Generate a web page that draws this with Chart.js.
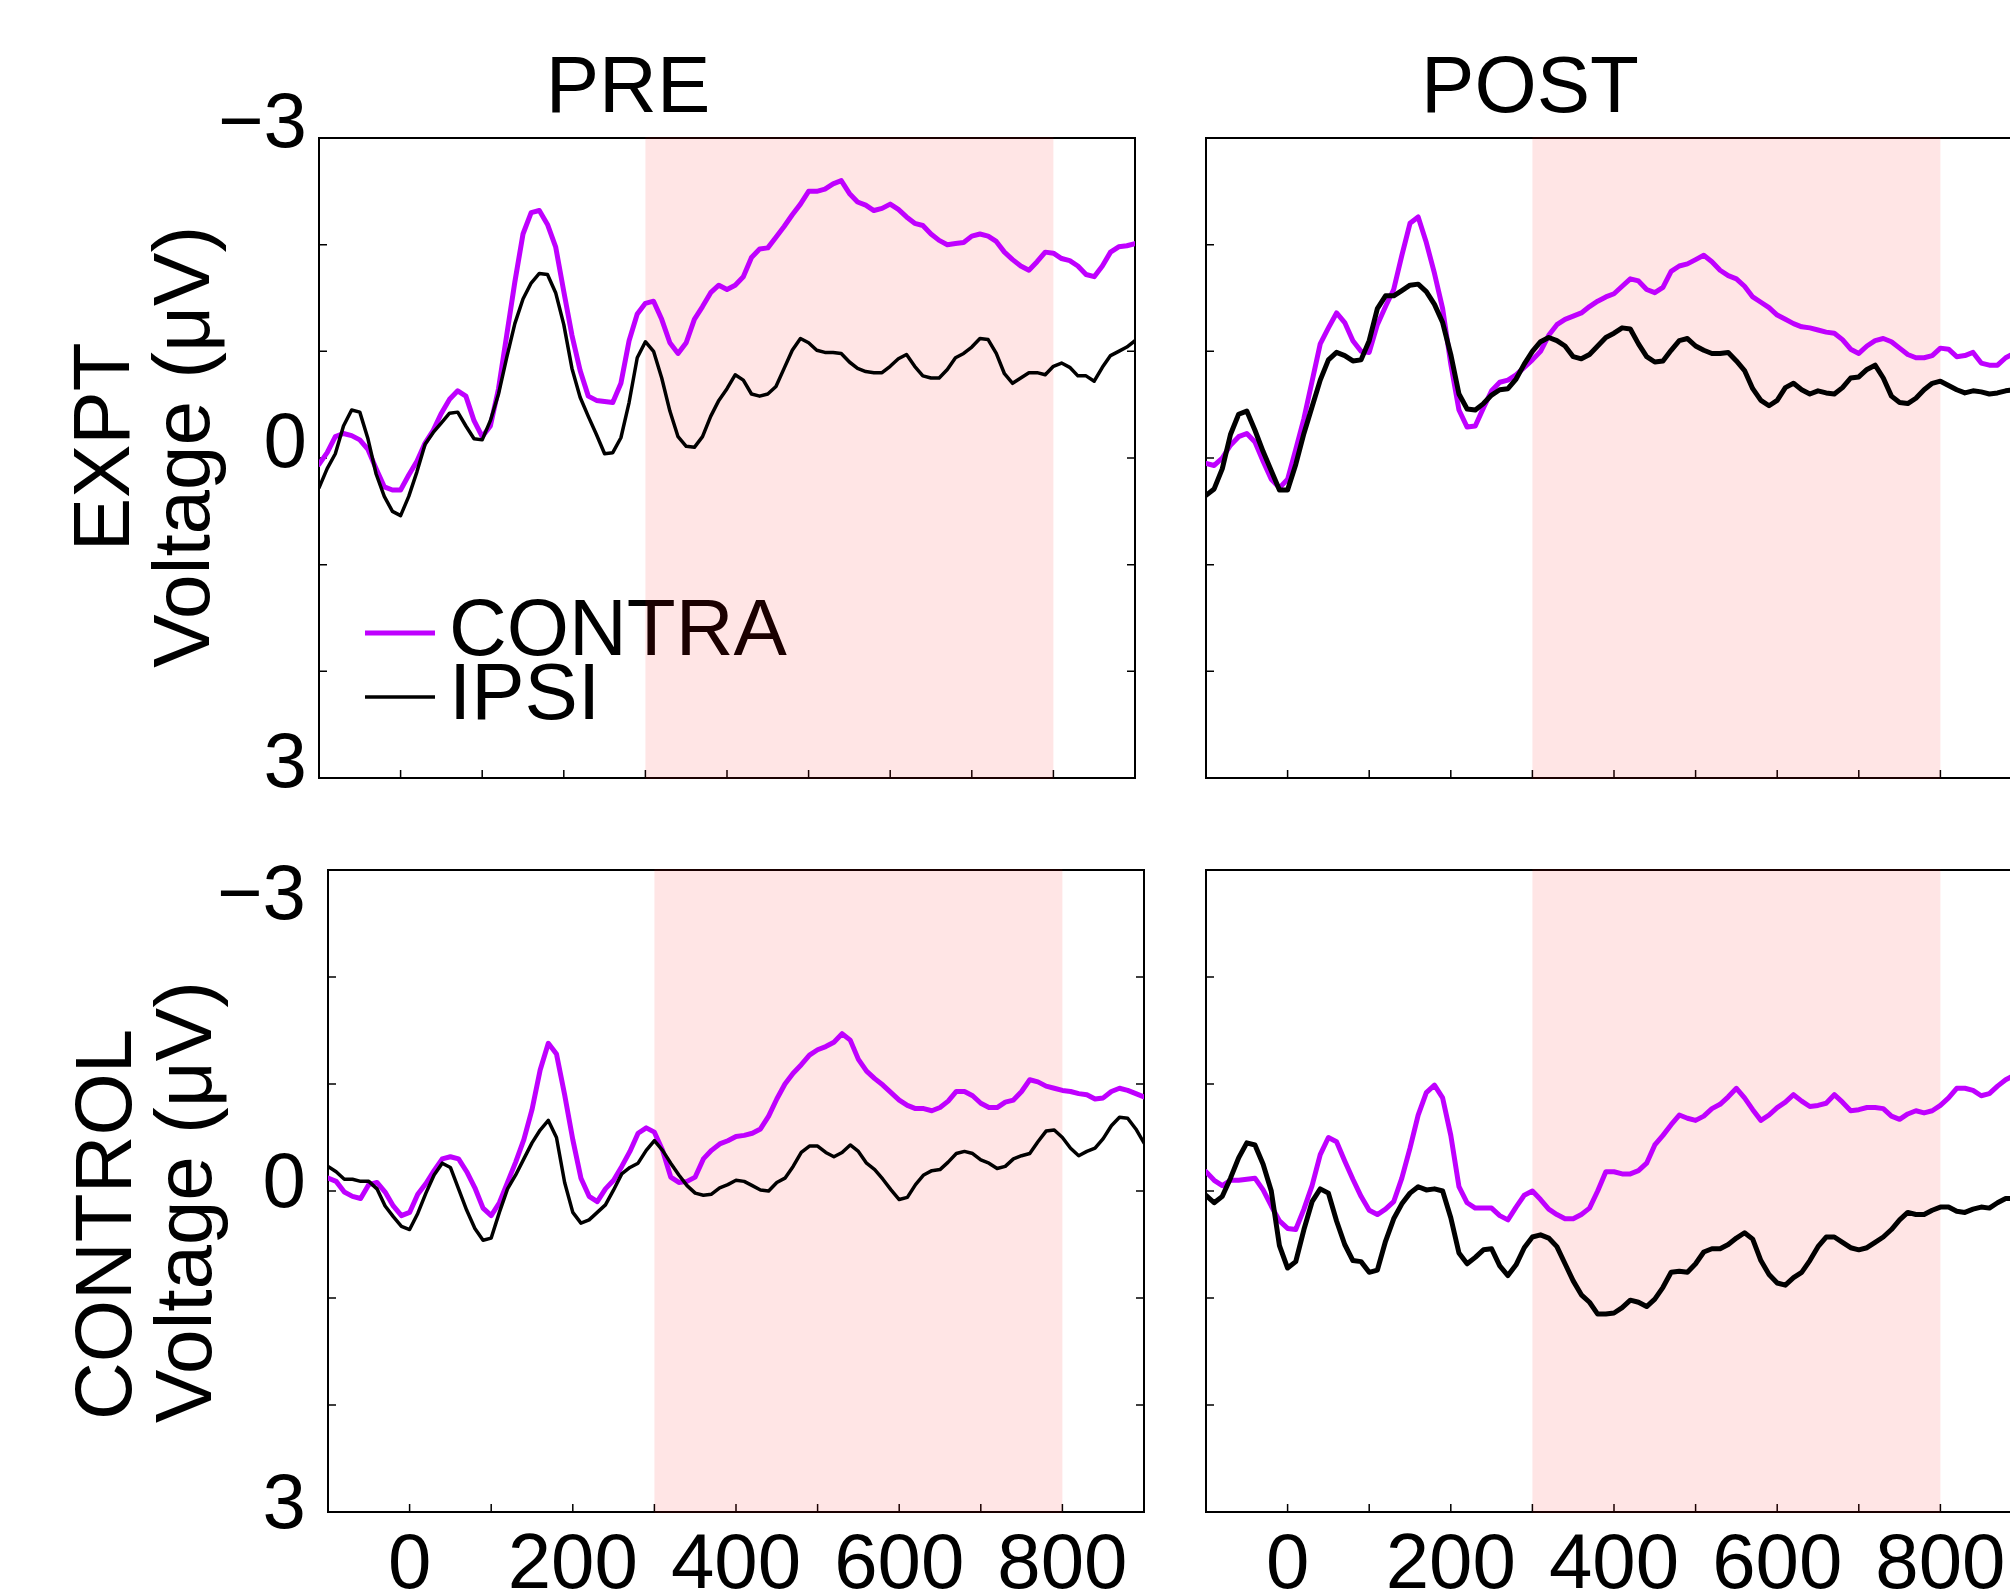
<!DOCTYPE html>
<html>
<head>
  <meta charset="utf-8">
  <title>CONTRA / IPSI – PRE / POST</title>
  <script src="https://cdn.jsdelivr.net/npm/chart.js"></script>
  <style>
    html, body { margin: 0; padding: 0; background: #fff; overflow: hidden; }
    body { width: 2010px; height: 1592px; position: relative; }
    canvas { position: absolute; }
  </style>
</head>
<body>
  <canvas id="preExpt" width="1256" height="800" style="left:0px;top:0px"></canvas>
  <canvas id="postExpt" width="984" height="800" style="left:1038px;top:0px"></canvas>
  <canvas id="preCtrl" width="1256" height="792" style="left:0px;top:800px"></canvas>
  <canvas id="postCtrl" width="984" height="792" style="left:1038px;top:800px"></canvas>

  <script>
    // time in ms, one sample every 10 ms
    const times = [
      -100, -90, -80, -70, -60, -50, -40, -30, -20, -10,
      0, 10, 20, 30, 40, 50, 60, 70, 80, 90,
      100, 110, 120, 130, 140, 150, 160, 170, 180, 190,
      200, 210, 220, 230, 240, 250, 260, 270, 280, 290,
      300, 310, 320, 330, 340, 350, 360, 370, 380, 390,
      400, 410, 420, 430, 440, 450, 460, 470, 480, 490,
      500, 510, 520, 530, 540, 550, 560, 570, 580, 590,
      600, 610, 620, 630, 640, 650, 660, 670, 680, 690,
      700, 710, 720, 730, 740, 750, 760, 770, 780, 790,
      800, 810, 820, 830, 840, 850, 860, 870, 880, 890,
      900
    ];

    // voltages in microvolts (axis is drawn negative-up)
    const preExptContra = [
      0.06, -0.05, -0.2, -0.23, -0.21, -0.17, -0.08, 0.1, 0.27, 0.3,
      0.3, 0.16, 0.03, -0.14, -0.26, -0.42, -0.55, -0.63, -0.58, -0.35,
      -0.2, -0.3, -0.65, -1.15, -1.65, -2.1, -2.3, -2.32, -2.19, -1.98,
      -1.56, -1.15, -0.82, -0.58, -0.54, -0.53, -0.52, -0.7, -1.1, -1.35,
      -1.45, -1.47, -1.3, -1.08, -0.98, -1.08, -1.3, -1.42, -1.55, -1.62,
      -1.58, -1.62, -1.7, -1.88, -1.96, -1.97, -2.07, -2.17, -2.28, -2.38,
      -2.5, -2.5, -2.52, -2.57, -2.6, -2.48, -2.4, -2.37, -2.32, -2.34,
      -2.38, -2.33, -2.26, -2.2, -2.18, -2.1, -2.04, -2.0, -2.01, -2.02,
      -2.08, -2.1, -2.08, -2.03, -1.93, -1.86, -1.8, -1.76, -1.84, -1.93,
      -1.92, -1.87, -1.85, -1.8, -1.72, -1.7, -1.8, -1.93, -1.98, -1.99,
      -2.01
    ];
    const preExptIpsi = [
      0.28, 0.1, -0.04, -0.3, -0.45, -0.43, -0.18, 0.15, 0.36, 0.5,
      0.54, 0.36, 0.13, -0.13, -0.24, -0.33, -0.42, -0.43, -0.3, -0.18,
      -0.17, -0.35, -0.6, -0.94, -1.26, -1.49, -1.64, -1.73, -1.72, -1.55,
      -1.25, -0.84, -0.57, -0.39, -0.22, -0.04, -0.05, -0.19, -0.52, -0.94,
      -1.09, -1.0, -0.75, -0.44, -0.2, -0.11, -0.1, -0.2, -0.39, -0.54,
      -0.65, -0.78, -0.73, -0.6, -0.58, -0.6, -0.67, -0.84, -1.01, -1.12,
      -1.08, -1.01, -0.99, -0.99, -0.98, -0.9, -0.84, -0.81, -0.8, -0.8,
      -0.86, -0.93, -0.97, -0.86, -0.77, -0.75, -0.75, -0.83, -0.94, -0.98,
      -1.04, -1.12, -1.11, -0.98, -0.79, -0.7, -0.75, -0.8, -0.8, -0.78,
      -0.86, -0.89, -0.85, -0.77, -0.77, -0.72, -0.85, -0.96, -1.0, -1.04,
      -1.1
    ];
    const postExptContra = [
      0.05, 0.07, 0.0, -0.12, -0.2, -0.23, -0.15, 0.03, 0.2, 0.28,
      0.2, -0.08, -0.37, -0.72, -1.07, -1.22, -1.36, -1.27, -1.1, -1.0,
      -0.99, -1.25, -1.42, -1.58, -1.9, -2.2, -2.26, -2.02, -1.73, -1.4,
      -0.88, -0.45, -0.29, -0.3, -0.47, -0.63, -0.71, -0.73, -0.78, -0.85,
      -0.92, -1.0, -1.15, -1.25, -1.3, -1.33, -1.36, -1.42, -1.47, -1.51,
      -1.54, -1.61, -1.68, -1.66, -1.58, -1.55, -1.6, -1.75, -1.8, -1.82,
      -1.86, -1.9, -1.84, -1.76, -1.71, -1.68, -1.61, -1.51, -1.46, -1.41,
      -1.34, -1.3, -1.26, -1.23, -1.22, -1.2, -1.18, -1.17, -1.11, -1.02,
      -0.98, -1.05, -1.1, -1.12, -1.09, -1.03, -0.97, -0.94, -0.94, -0.96,
      -1.03, -1.02, -0.95, -0.96, -0.99, -0.89, -0.87, -0.87, -0.94, -0.98,
      -1.0
    ];
    const postExptIpsi = [
      0.35, 0.29, 0.1, -0.22, -0.41, -0.44, -0.26, -0.06, 0.12, 0.3,
      0.3, 0.06, -0.23, -0.48, -0.73, -0.92, -0.99, -0.96, -0.91, -0.92,
      -1.1, -1.4, -1.52, -1.52, -1.57, -1.62, -1.63, -1.56, -1.44, -1.27,
      -0.97, -0.6, -0.46, -0.45, -0.51, -0.59, -0.64, -0.65, -0.74, -0.88,
      -1.0, -1.09, -1.13, -1.1, -1.05, -0.95, -0.93, -0.97, -1.05, -1.13,
      -1.17, -1.22, -1.21, -1.07, -0.95, -0.9, -0.91, -1.01, -1.1, -1.12,
      -1.05, -1.01, -0.98, -0.98, -0.99, -0.91, -0.82, -0.65, -0.54, -0.49,
      -0.54, -0.66, -0.7, -0.64, -0.6, -0.63, -0.61, -0.6, -0.66, -0.75,
      -0.76, -0.83, -0.87, -0.75, -0.58, -0.52, -0.51, -0.56, -0.64, -0.7,
      -0.72, -0.68, -0.64, -0.61, -0.63, -0.62, -0.6, -0.61, -0.63, -0.64,
      -0.65
    ];
    const preCtrlContra = [
      -0.12, -0.09, 0.01, 0.05, 0.07, -0.06, -0.08, 0.01, 0.14, 0.23,
      0.2, 0.03, -0.07, -0.19, -0.3, -0.32, -0.3, -0.18, -0.03, 0.16,
      0.23, 0.11, -0.08, -0.27, -0.48, -0.76, -1.13, -1.38, -1.28, -0.9,
      -0.48, -0.12, 0.05, 0.1, -0.02, -0.1, -0.23, -0.37, -0.54, -0.59,
      -0.55, -0.38, -0.13, -0.08, -0.09, -0.13, -0.3, -0.38, -0.44, -0.47,
      -0.51, -0.52, -0.54, -0.58, -0.7, -0.86, -1.0, -1.1, -1.18, -1.27,
      -1.32, -1.35, -1.39, -1.47, -1.41, -1.23, -1.12, -1.05, -0.99, -0.92,
      -0.85, -0.8, -0.77, -0.77, -0.75, -0.78, -0.84, -0.93, -0.93, -0.89,
      -0.82, -0.78, -0.78, -0.83, -0.85, -0.93, -1.04, -1.02, -0.98, -0.96,
      -0.94, -0.93, -0.91, -0.9, -0.86, -0.87, -0.93, -0.96, -0.94, -0.91,
      -0.88
    ];
    const preCtrlIpsi = [
      -0.23, -0.18, -0.11, -0.11, -0.09, -0.09, -0.02, 0.14, 0.24, 0.33,
      0.36, 0.21, 0.02, -0.15, -0.26, -0.22, -0.02, 0.18, 0.35, 0.46,
      0.44, 0.2, -0.02, -0.15, -0.3, -0.45, -0.57, -0.66, -0.5, -0.08,
      0.2, 0.3, 0.27, 0.2, 0.13, -0.01, -0.16, -0.22, -0.26, -0.38,
      -0.47, -0.38, -0.26, -0.15, -0.05, 0.02, 0.04, 0.03, -0.03, -0.06,
      -0.1, -0.09, -0.05, -0.01, 0.0, -0.08, -0.12, -0.23, -0.36, -0.42,
      -0.42, -0.36, -0.32, -0.36, -0.43, -0.37, -0.26, -0.2, -0.11, -0.01,
      0.08, 0.06, -0.06, -0.15, -0.19, -0.2, -0.27, -0.35, -0.37, -0.35,
      -0.29, -0.26, -0.21, -0.23, -0.3, -0.33, -0.35, -0.46, -0.56, -0.57,
      -0.5, -0.4, -0.33, -0.37, -0.4, -0.49, -0.61, -0.69, -0.68, -0.58,
      -0.45
    ];
    const postCtrlContra = [
      -0.18, -0.1, -0.05, -0.1, -0.1, -0.11, -0.12, -0.01, 0.14, 0.28,
      0.35, 0.36, 0.17, -0.05, -0.34, -0.5, -0.46, -0.28, -0.11, 0.05,
      0.18, 0.22, 0.17, 0.1, -0.12, -0.4, -0.71, -0.92, -0.99, -0.87,
      -0.52, -0.04, 0.11, 0.16, 0.16, 0.16, 0.23, 0.27, 0.15, 0.04,
      0.0, 0.08, 0.17, 0.22, 0.26, 0.26, 0.22, 0.16, 0.0, -0.18,
      -0.18, -0.16, -0.16, -0.19, -0.26, -0.43, -0.52, -0.62, -0.71, -0.68,
      -0.66, -0.7, -0.77, -0.81, -0.88, -0.96, -0.87, -0.76, -0.66, -0.71,
      -0.78, -0.83, -0.9, -0.84, -0.79, -0.8, -0.82, -0.9, -0.83, -0.75,
      -0.76, -0.78, -0.78, -0.77, -0.7, -0.67, -0.72, -0.75, -0.73, -0.75,
      -0.8, -0.87, -0.96, -0.96, -0.94, -0.89, -0.91, -0.98, -1.04, -1.08,
      -1.1
    ];
    const postCtrlIpsi = [
      0.04, 0.11, 0.05, -0.12, -0.31, -0.45, -0.43, -0.25, 0.0, 0.51,
      0.72, 0.66, 0.36, 0.1, -0.02, 0.02, 0.28, 0.5, 0.65, 0.66,
      0.76, 0.74, 0.47, 0.26, 0.12, 0.02, -0.04, -0.01, -0.02, 0.0,
      0.25, 0.58, 0.68, 0.62, 0.55, 0.54, 0.7, 0.79, 0.69, 0.53,
      0.43, 0.41, 0.44, 0.52, 0.68, 0.84, 0.97, 1.04, 1.15, 1.15,
      1.14, 1.09, 1.02, 1.04, 1.08, 1.01, 0.9, 0.76, 0.75, 0.76,
      0.68, 0.57, 0.54, 0.54, 0.5, 0.44, 0.39, 0.45, 0.65, 0.78,
      0.86, 0.88, 0.81, 0.76, 0.65, 0.52, 0.43, 0.43, 0.48, 0.53,
      0.55, 0.53, 0.48, 0.43, 0.36, 0.27, 0.2, 0.22, 0.22, 0.18,
      0.15, 0.15, 0.19, 0.2, 0.17, 0.15, 0.16, 0.11, 0.07, 0.07,
      0.07
    ];

    // axes
    const xTicks = [-100, 0, 100, 200, 300, 400, 500, 600, 700, 800, 900];
    const xLabelValues = [0, 200, 400, 600, 800];
    const yTicks = [-3, -2, -1, 0, 1, 2, 3];
    const yLabelValues = [-3, 0, 3];
    const windowStart = 300;   // shaded analysis window
    const windowEnd = 800;

    const contraColor = '#bf00ff';
    const ipsiColor = '#000000';
    const fontFamily = '"Liberation Sans", Arial, Helvetica, sans-serif';
    const tickLen = 8;

    Chart.defaults.font.family = fontFamily;
    Chart.defaults.color = '#000';

    const yLabel = v => v < 0 ? '\u2212' + Math.abs(v) : String(v);

    // box, inward ticks, legend and the shaded window (drawn under the traces)
    const frame = {
      id: 'frame',
      beforeDatasetsDraw(chart, args, opts) {
        const { ctx, chartArea: a, scales: { x, y } } = chart;
        ctx.save();

        if (opts.legend) {
          const items = [
            { label: 'CONTRA', color: contraColor, width: 5 },
            { label: 'IPSI', color: ipsiColor, width: 3.5 }
          ];
          ctx.font = '80px ' + fontFamily;
          ctx.textBaseline = 'alphabetic';
          ctx.textAlign = 'left';
          items.forEach((it, i) => {
            const ly = a.top + 495 + i * 64;
            ctx.strokeStyle = it.color;
            ctx.lineWidth = it.width;
            ctx.beginPath();
            ctx.moveTo(a.left + 46, ly);
            ctx.lineTo(a.left + 116, ly);
            ctx.stroke();
            ctx.fillStyle = '#000';
            ctx.fillText(it.label, a.left + 130, ly + 22);
          });
        }

        ctx.strokeStyle = '#000';
        ctx.lineWidth = 2;
        ctx.strokeRect(a.left, a.top, a.right - a.left, a.bottom - a.top);

        ctx.lineWidth = 1.5;
        ctx.beginPath();
        yTicks.slice(1, -1).forEach(v => {
          const py = y.getPixelForValue(v);
          ctx.moveTo(a.left, py); ctx.lineTo(a.left + tickLen, py);
          ctx.moveTo(a.right, py); ctx.lineTo(a.right - tickLen, py);
        });
        xTicks.slice(1, -1).forEach(v => {
          const px = x.getPixelForValue(v);
          ctx.moveTo(px, a.bottom); ctx.lineTo(px, a.bottom - tickLen);
        });
        ctx.stroke();

        const x0 = x.getPixelForValue(windowStart);
        const x1 = x.getPixelForValue(windowEnd);
        ctx.fillStyle = 'rgba(255, 0, 0, 0.1)';
        ctx.fillRect(x0, a.top - 1, x1 - x0, a.bottom - a.top + 2);

        ctx.restore();
      }
    };

    // the two left panels print their y labels slightly differently in the original;
    // padding spaces in the axis titles nudge each rotated line along the axis
    const panels = [
      { id: 'preExpt', title: 'PRE', rowTitle: [' EXPT', ' Voltage (\u03bcV)'],
        contra: preExptContra, ipsi: preExptIpsi,
        contraWidth: 5, ipsiWidth: 3.5, legend: true, yLabels: true, showX: false,
        padding: { left: 121, right: 121, top: 0, bottom: 22 }, yWidth: 198, yTitlePad: -54,
        tickPad: 4, labelOffset: -13, tickLineHeight: 0.1,
        yText: v => yLabel(v) },
      { id: 'postExpt', title: 'POST', rowTitle: null, contra: postExptContra, ipsi: postExptIpsi,
        contraWidth: 5, ipsiWidth: 5, legend: false, yLabels: false, showX: false,
        padding: { left: 0, right: 0, top: 0, bottom: 22 }, yWidth: 168 },
      { id: 'preCtrl', title: '', rowTitle: ['CONTROL   ', 'Voltage (\u03bcV) '],
        contra: preCtrlContra, ipsi: preCtrlIpsi,
        contraWidth: 5, ipsiWidth: 3.5, legend: false, yLabels: true, showX: true,
        padding: { left: 66, right: 112, top: 70, bottom: 0 }, yWidth: 262, yTitlePad: 3, xHeight: 80,
        tickPad: 14, labelOffset: -6, tickLineHeight: 0.423,
        yText: v => v === yLabelValues[0] ? ['', '', yLabel(v)] : yLabel(v) },
      { id: 'postCtrl', title: '', rowTitle: null, contra: postCtrlContra, ipsi: postCtrlIpsi,
        contraWidth: 5, ipsiWidth: 5, legend: false, yLabels: false, showX: true,
        padding: { left: 0, right: 0, top: 70, bottom: 0 }, yWidth: 168, xHeight: 80 }
    ];

    function makeChart(p) {
      return new Chart(document.getElementById(p.id), {
        type: 'line',
        data: {
          labels: times,
          datasets: [
            { label: 'IPSI', data: p.ipsi, borderColor: ipsiColor, borderWidth: p.ipsiWidth },
            { label: 'CONTRA', data: p.contra, borderColor: contraColor, borderWidth: p.contraWidth }
          ]
        },
        options: {
          responsive: false,
          animation: false,
          events: [],
          layout: { padding: p.padding },
          elements: {
            point: { radius: 0 },
            line: { tension: 0, fill: false, borderJoinStyle: 'round', borderCapStyle: 'round' }
          },
          plugins: {
            legend: { display: false },
            tooltip: { enabled: false },
            title: {
              display: !!p.title,
              text: p.title,
              color: '#000',
              font: { size: 80, weight: 'normal', lineHeight: 1.2 },
              padding: { top: 42, bottom: 0 }
            },
            frame: { legend: p.legend }
          },
          scales: {
            x: {
              type: 'linear',
              min: -100,
              max: 900,
              display: p.showX,
              grid: { display: false },
              border: { display: false },
              afterFit: s => { if (p.xHeight) s.height = p.xHeight; },
              ticks: {
                stepSize: 100,
                autoSkip: false,
                minRotation: 0,
                maxRotation: 0,
                padding: 0,
                color: '#000',
                font: { size: 78, lineHeight: 1.2 },
                callback: v => xLabelValues.includes(v) ? String(v) : ''
              }
            },
            y: {
              type: 'linear',
              reverse: true,
              min: -3,
              max: 3,
              display: true,
              grid: { display: false },
              border: { display: false },
              afterFit: s => { s.width = p.yWidth; },
              ticks: {
                stepSize: 1,
                autoSkip: false,
                padding: p.tickPad || 0,
                labelOffset: p.labelOffset || 0,
                color: '#000',
                font: { size: 78, lineHeight: p.tickLineHeight || 0.1 },
                callback: v => (p.yLabels && yLabelValues.includes(v)) ? p.yText(v) : ''
              },
              title: {
                display: !!p.rowTitle,
                text: p.rowTitle || '',
                color: '#000',
                font: { size: 80, lineHeight: 1 },
                padding: { top: p.yTitlePad || 0, bottom: 0 }
              }
            }
          }
        },
        plugins: [frame]
      });
    }

    panels.forEach(makeChart);
  </script>
</body>
</html>
